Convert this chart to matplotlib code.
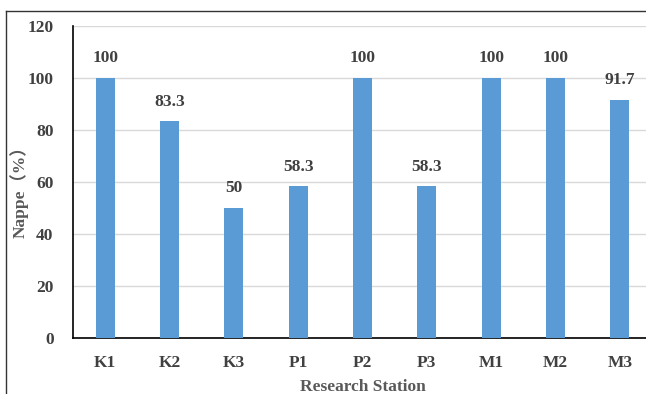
import matplotlib.pyplot as plt
from matplotlib.lines import Line2D

stations = ["K1", "K2", "K3", "P1", "P2", "P3", "M1", "M2", "M3"]
nappe = [100, 83.3, 50, 58.3, 100, 58.3, 100, 100, 91.7]
value_labels = ["100", "83.3", "50", "58.3", "100", "58.3", "100", "100", "91.7"]
yticks = [0, 20, 40, 60, 80, 100, 120]

plt.rcParams['font.family'] = ['Liberation Serif', 'DejaVu Serif']
W, H = 646, 394
fig = plt.figure(figsize=(W / 100, H / 100), dpi=100)

left, right = 73 / W, 652 / W
bottom, top = 1 - 338 / H, 1 - 26 / H
ax = fig.add_axes([left, bottom, right - left, top - bottom])

x = list(range(len(stations)))
ax.bar(x, nappe, width=0.3, color="#5B9BD5", zorder=3)
for xi, v, lab in zip(x, nappe, value_labels):
    ax.text(xi, v + 4.5, lab, ha="center", va="bottom", fontsize=12.5,
            fontweight="bold", color="#404040")

ax.set_xlim(-0.5, len(stations) - 0.5)
ax.set_ylim(0, 120)
ax.set_yticks(yticks)
ax.set_xticks(x)
ax.set_xticklabels(stations)
ax.tick_params(axis="both", length=0, labelsize=12.5, labelcolor="#404040")
for lbl in ax.get_xticklabels() + ax.get_yticklabels():
    lbl.set_fontweight("bold")
ax.tick_params(axis="x", pad=12)
ax.tick_params(axis="y", pad=14)
ax.grid(axis="y", color="#D9D9D9", linewidth=1, zorder=0)
for s in ["top", "right"]:
    ax.spines[s].set_visible(False)
for s in ["left", "bottom"]:
    ax.spines[s].set_color("black")
    ax.spines[s].set_linewidth(1.2)

ax.set_xlabel("Research Station", fontsize=12.5, fontweight="bold",
              color="#595959", labelpad=6)
fig.text(19 / W, 1 - 188 / H, "Nappe（%）", rotation=90, ha="center",
         va="center", fontsize=12.5, fontweight="bold", color="#595959",
         family=['Liberation Serif', 'Noto Sans CJK SC'])

# outer frame
fig.add_artist(Line2D([6 / W, 1], [1 - 11 / H, 1 - 11 / H], color="#333333", lw=1))
fig.add_artist(Line2D([6 / W, 6 / W], [0, 1 - 11 / H], color="#333333", lw=1))

fig.savefig("out.png", dpi=100)
